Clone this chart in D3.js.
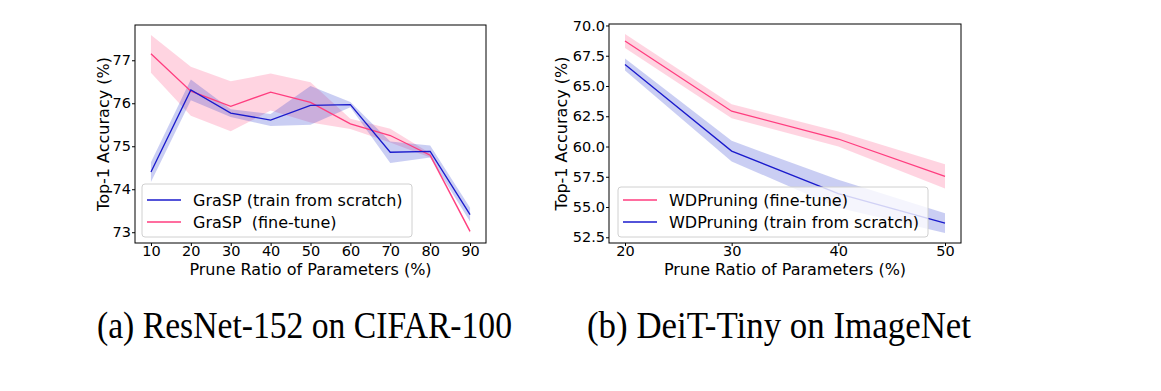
<!DOCTYPE html>
<html><head><meta charset="utf-8">
<script src="https://cdn.jsdelivr.net/npm/d3@7"></script>
<style>body{margin:0;background:#fff}svg{display:block}</style>
</head><body>
<svg id="c" width="1161" height="391"></svg>
<script>
// ---- data ----
const leftX = [10,20,30,40,50,60,70,80,90];
const leftScratchMean = [74.40,76.31,75.77,75.61,75.95,75.97,74.86,74.88,73.41];
const leftScratchStd  = [0.23,0.24,0.09,0.14,0.45,0.06,0.25,0.14,0.16];
const leftFineMean    = [77.15,76.28,75.93,76.26,76.02,75.52,75.25,74.79,73.02];
const leftFineStd     = [0.44,0.57,0.58,0.43,0.47,0.12,0.16,0.05,0.04];
const leftXTicks = [10,20,30,40,50,60,70,80,90];
const leftYTicks = [73,74,75,76,77];

const rightX = [20,30,40,50];
const rightFineMean    = [68.72,62.92,60.62,57.53];
const rightFineStd     = [0.58,0.58,0.62,1.0];
const rightScratchMean = [66.78,59.62,56.1,53.67];
const rightScratchStd  = [0.5,0.85,1.15,0.82];
const rightXTicks = [20,30,40,50];
const rightYTicks = [52.5,55.0,57.5,60.0,62.5,65.0,67.5,70.0];

const captions = ["(a) ResNet-152 on CIFAR-100","(b) DeiT-Tiny on ImageNet"];

const BLUE = "#1a1acc", BLUE_FILL = "#2b3bd0";
const PINK = "#ff3d7f", PINK_FILL = "#ff6f9c";

const svg = d3.select("#c");
const FONT = "DejaVu Sans, sans-serif";
const FS = 16, TFS = 14.5;

function panel(o){
  const {x0,x1,y0,y1,xs,series,xTicks,yTicks,yFmt,legend} = o;
  const xmin=d3.min(xs), xmax=d3.max(xs), xm=(xmax-xmin)*0.05;
  let lo=Infinity, hi=-Infinity;
  series.forEach(s=>s.mean.forEach((m,i)=>{lo=Math.min(lo,m-s.std[i]);hi=Math.max(hi,m+s.std[i]);}));
  const ym=(hi-lo)*0.05;
  const x=d3.scaleLinear().domain([xmin-xm,xmax+xm]).range([x0,x1]);
  const y=d3.scaleLinear().domain([lo-ym,hi+ym]).range([y1,y0]);
  const g=svg.append("g");
  series.forEach(s=>{
    const d=xs.map((v,i)=>({x:v,m:s.mean[i],sd:s.std[i]}));
    g.append("path").datum(d)
      .attr("d",d3.area().x(p=>x(p.x)).y0(p=>y(p.m-p.sd)).y1(p=>y(p.m+p.sd)))
      .attr("fill",s.fill).attr("fill-opacity",s.op);
  });
  series.forEach(s=>{
    const d=xs.map((v,i)=>({x:v,m:s.mean[i]}));
    g.append("path").datum(d)
      .attr("d",d3.line().x(p=>x(p.x)).y(p=>y(p.m)))
      .attr("fill","none").attr("stroke",s.color).attr("stroke-width",1.3);
  });
  const xa=g.append("g").attr("transform",`translate(0,${y1})`)
    .call(d3.axisBottom(x).tickValues(xTicks).tickSize(3).tickPadding(0).tickFormat(d3.format("d")));
  const ya=g.append("g").attr("transform",`translate(${x0},0)`)
    .call(d3.axisLeft(y).tickValues(yTicks).tickSize(3).tickPadding(1).tickFormat(yFmt));
  [xa,ya].forEach(a=>{a.select(".domain").remove();a.selectAll("text").attr("font-family",FONT).attr("font-size",TFS).attr("fill","#000");a.selectAll("line").attr("stroke","#000");});
  g.append("rect").attr("x",x0).attr("y",y0).attr("width",x1-x0).attr("height",y1-y0)
    .attr("fill","none").attr("stroke","#000").attr("stroke-width",1);
  g.append("text").attr("x",(x0+x1)/2).attr("y",y1+32).attr("text-anchor","middle")
    .attr("font-family",FONT).attr("font-size",FS).text("Prune Ratio of Parameters (%)");
  g.append("text").attr("transform",`translate(${o.ylabX},${(y0+y1)/2}) rotate(-90)`)
    .attr("text-anchor","middle").attr("dominant-baseline","central")
    .attr("font-family",FONT).attr("font-size",FS).text("Top-1 Accuracy (%)");
  const L=legend;
  g.append("rect").attr("x",L.x).attr("y",L.y).attr("width",L.w).attr("height",L.h).attr("rx",3)
    .attr("fill","#fff").attr("fill-opacity",0.8).attr("stroke","#d0d0d0");
  L.items.forEach((it,i)=>{
    const yy=L.r0+i*22;
    g.append("line").attr("x1",L.x+5).attr("x2",L.x+39).attr("y1",yy).attr("y2",yy)
      .attr("stroke",it.color).attr("stroke-width",1.3);
    g.append("text").attr("x",L.x+51).attr("y",yy).attr("dominant-baseline","central")
      .attr("font-family",FONT).attr("font-size",FS).style("white-space","pre").text(it.label);
  });
}

panel({x0:135,x1:486,y0:25,y1:243,xs:leftX,ylabX:103,
  series:[
    {mean:leftFineMean,std:leftFineStd,color:PINK,fill:PINK_FILL,op:0.3},
    {mean:leftScratchMean,std:leftScratchStd,color:BLUE,fill:BLUE_FILL,op:0.25}],
  xTicks:leftXTicks,yTicks:leftYTicks,yFmt:d3.format("d"),
  legend:{x:142,y:184,w:270,h:53,r0:200,items:[
    {label:"GraSP (train from scratch)",color:BLUE},
    {label:"GraSP  (fine-tune)",color:PINK}]}});

panel({x0:609,x1:961,y0:24,y1:243,xs:rightX,ylabX:561,
  series:[
    {mean:rightFineMean,std:rightFineStd,color:PINK,fill:PINK_FILL,op:0.3},
    {mean:rightScratchMean,std:rightScratchStd,color:BLUE,fill:BLUE_FILL,op:0.25}],
  xTicks:rightXTicks,yTicks:rightYTicks,yFmt:d3.format(".1f"),
  legend:{x:618,y:187,w:310,h:50,r0:200,items:[
    {label:"WDPruning (fine-tune)",color:PINK},
    {label:"WDPruning (train from scratch)",color:BLUE}]}});

const capX=[97,587], capW=[415,384];
captions.forEach((c,i)=>{
  svg.append("text").attr("x",capX[i]).attr("y",338)
    .attr("font-family","Liberation Serif, Times New Roman, serif").attr("font-size",37)
    .attr("textLength",capW[i]).attr("lengthAdjust","spacingAndGlyphs").text(c);
});
</script>
</body></html>
